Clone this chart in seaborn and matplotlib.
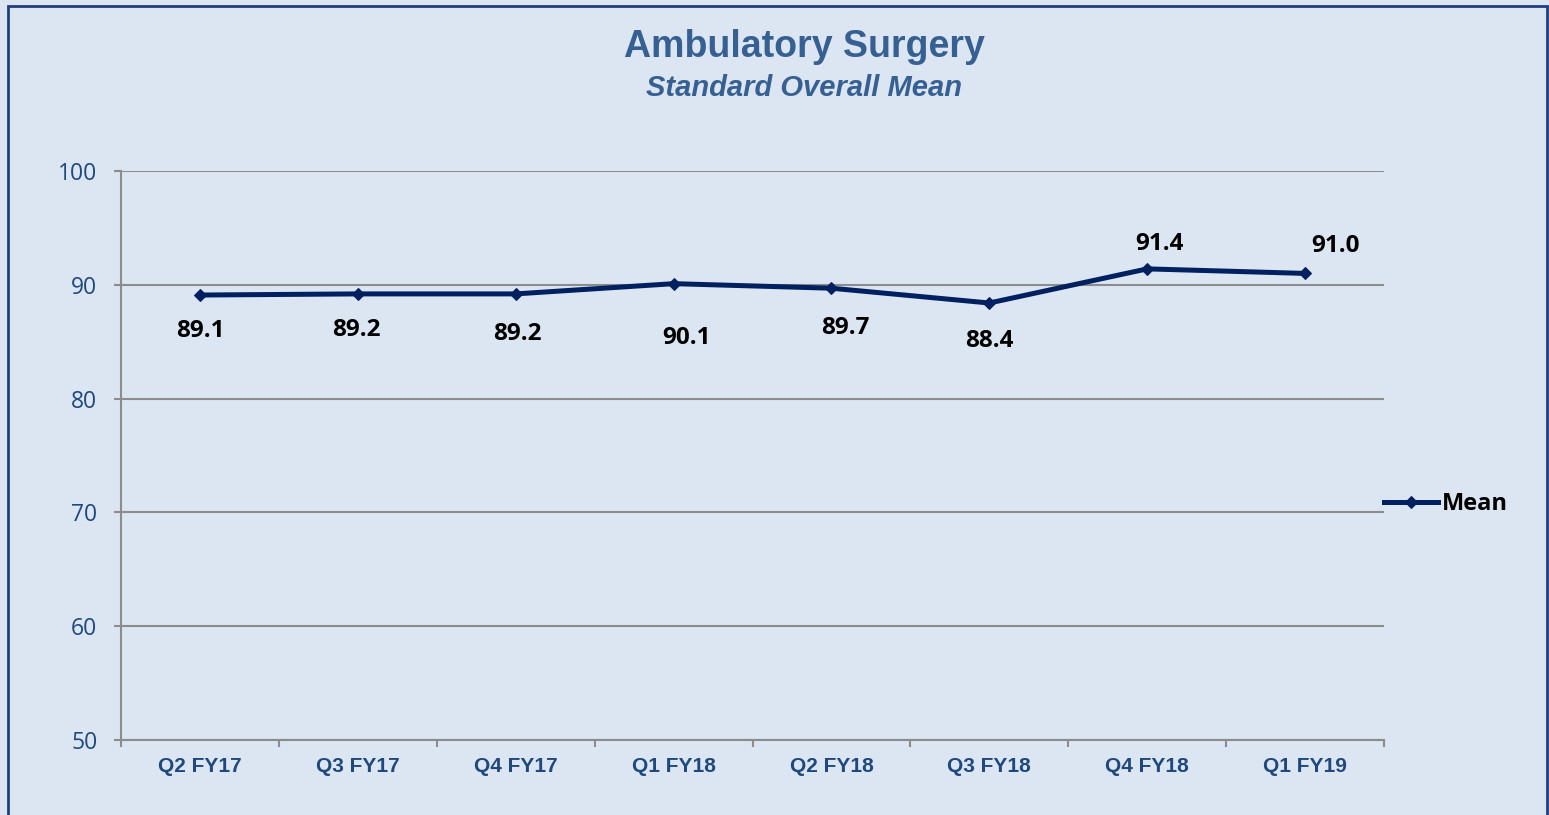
import matplotlib
matplotlib.use("Agg")
import matplotlib.pyplot as plt
from matplotlib.patches import Rectangle
from matplotlib.ticker import FixedLocator, NullFormatter
import seaborn as sns
import pandas as pd

# Quarterly standard overall mean scores
quarters = ["Q2 FY17", "Q3 FY17", "Q4 FY17", "Q1 FY18", "Q2 FY18", "Q3 FY18", "Q4 FY18", "Q1 FY19"]
mean_scores = [89.1, 89.2, 89.2, 90.1, 89.7, 88.4, 91.4, 91.0]
y_ticks = [50, 60, 70, 80, 90, 100]

# label offsets (points) relative to each marker
label_offsets = [(0, -26), (-1, -26), (1, -29), (9, -39), (10, -29), (0, -27), (9, 18), (22, 20)]

BG = "#DCE6F2"
NAVY = "#002060"
TITLE_BLUE = "#376092"
TICK_BLUE = "#1F497D"
GRID = "#8C8C8C"
LABEL_FONT = "Open Sans"

df = pd.DataFrame({"quarter": quarters, "Mean": mean_scores})

fig = plt.figure(figsize=(15.49, 8.15), dpi=100, facecolor=BG)
ax = fig.add_axes([121 / 1549, 1 - 740 / 815, (1384 - 121) / 1549, (740 - 171) / 815])
ax.set_facecolor(BG)

x_pos = list(range(len(quarters)))
df["x"] = x_pos
sns.lineplot(data=df, x="x", y="Mean", ax=ax, color=NAVY, linewidth=3.6,
             marker="D", markersize=6.5, markeredgecolor=NAVY, label="Mean")

ax.set_xlim(-0.5, len(quarters) - 0.5)
ax.set_ylim(50, 100)
ax.set_yticks(y_ticks)
ax.set_yticklabels([str(t) for t in y_ticks], fontsize=16.5, color=TICK_BLUE, family=LABEL_FONT)
ax.set_xticks(x_pos)
ax.set_xticklabels(quarters, fontsize=15, fontweight="bold", color=TICK_BLUE,
                   family="Liberation Sans")
ax.xaxis.set_minor_locator(FixedLocator([i - 0.5 for i in range(len(quarters) + 1)]))
ax.xaxis.set_minor_formatter(NullFormatter())
ax.tick_params(axis="x", which="major", length=0, pad=12)
ax.tick_params(axis="x", which="minor", length=5, width=1.5, color=GRID, direction="out")
ax.tick_params(axis="y", length=5, width=1.5, color=GRID, pad=12)
ax.set_xlabel("")
ax.set_ylabel("")

ax.grid(axis="y", color=GRID, linewidth=1.5)
ax.grid(axis="x", visible=False)
ax.set_axisbelow(True)
for side in ["top", "right"]:
    ax.spines[side].set_visible(False)
for side in ["left", "bottom"]:
    ax.spines[side].set_color(GRID)
    ax.spines[side].set_linewidth(1.5)

for xi, val, (dx, dy) in zip(x_pos, mean_scores, label_offsets):
    ax.annotate(f"{val:.1f}", (xi, val), xytext=(dx, dy), textcoords="offset points",
                ha="center", va="center", fontsize=17.5, fontweight="bold",
                color="black", family=LABEL_FONT)

leg = ax.legend(loc="center left", bbox_to_anchor=(1.0, 0.415), frameon=False,
                handlelength=2.3, handletextpad=0.15, borderpad=0, borderaxespad=0,
                prop={"family": LABEL_FONT, "weight": "bold", "size": 17})

fig.text(804 / 1549, 1 - 47 / 815, "Ambulatory Surgery", ha="center", va="center",
         fontsize=27, fontweight="bold", color=TITLE_BLUE, family="Liberation Sans")
fig.text(804 / 1549, 1 - 88 / 815, "Standard Overall Mean", ha="center", va="center",
         fontsize=21, fontweight="bold", style="italic", color=TITLE_BLUE,
         family="Liberation Sans")

# chart frame
fig.patches.append(Rectangle((8 / 1549, -0.05), (1547 - 8) / 1549, 1.05 - 6 / 815,
                             transform=fig.transFigure, fill=False,
                             edgecolor="#1F3F7F", linewidth=2))

fig.savefig("out.png", dpi=100, facecolor=BG)
